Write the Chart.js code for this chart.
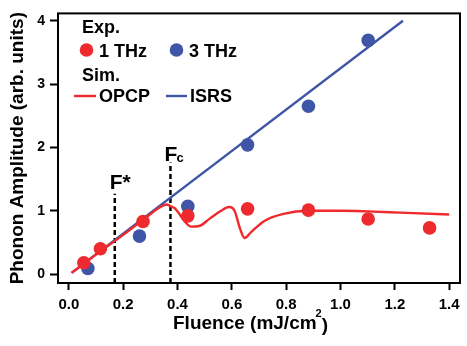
<!DOCTYPE html>
<html>
<head>
<meta charset="utf-8">
<script src="https://cdn.jsdelivr.net/npm/chart.js@4.4.0/dist/chart.umd.min.js"></script>
<style>
  html, body { margin: 0; padding: 0; background: #fff; }
  #phonon { display: block; }
</style>
</head>
<body>
<canvas id="phonon" width="467" height="346"></canvas>
<script>
// measured points, 1 THz mode (red) and 3 THz mode (blue)
const fluence1THz = [0.055, 0.116, 0.273, 0.438, 0.658, 0.882, 1.102, 1.328];
const amp1THz = [0.18, 0.40, 0.83, 0.92, 1.03, 1.01, 0.87, 0.73];
const fluence3THz = [0.07, 0.26, 0.438, 0.658, 0.882, 1.102];
const amp3THz = [0.09, 0.60, 1.07, 2.04, 2.65, 3.69];

// simulations
const opcpFluence = [0.01, 0.1, 0.2, 0.28, 0.33, 0.36, 0.375, 0.39, 0.405, 0.425, 0.45, 0.48,
  0.52, 0.56, 0.59, 0.61, 0.63, 0.647, 0.67, 0.72, 0.79, 0.88, 1.0, 1.1, 1.22, 1.4];
const opcpAmp = [0.02, 0.31, 0.62, 0.88, 1.04, 1.1, 1.07, 1.04, 0.96, 0.84, 0.75, 0.76,
  0.88, 1.0, 1.06, 1.0, 0.72, 0.57, 0.66, 0.84, 0.95, 1.0, 1.0, 0.99, 0.97, 0.94];
const isrsFluence = [0.01, 1.23];
const isrsAmp = [0.02, 4.0];

// threshold markers
const thresholdNames = ["F*", "Fc"];
const thresholdFluence = [0.169, 0.374];
const thresholdTop = [1.27, 1.76];

const xTicks = [0, 0.2, 0.4, 0.6, 0.8, 1.0, 1.2, 1.4];
const yTicks = [0, 1, 2, 3, 4];

const RED = "#ee2a2e";
const BLUE = "#3f55a5";
const FONT = "'Liberation Sans', Arial, Helvetica, sans-serif";

function pairs(xs, ys) {
  return xs.map((x, i) => ({ x: x, y: ys[i] }));
}

const dashedSets = thresholdFluence.map((f, i) => ({
  label: thresholdNames[i],
  data: [{ x: f, y: -0.14 }, { x: f, y: thresholdTop[i] }],
  showLine: true,
  borderColor: "#000",
  borderWidth: 2.5,
  borderDash: [5, 3],
  pointRadius: 0,
}));

const overlay = {
  id: "overlay",
  afterDraw(chart) {
    const ctx = chart.ctx;
    const a = chart.chartArea;
    const xs = chart.scales.x;
    const ys = chart.scales.y;
    ctx.save();

    // frame
    ctx.strokeStyle = "#000";
    ctx.lineWidth = 2;
    ctx.strokeRect(a.left, a.top, a.right - a.left, a.bottom - a.top);

    ctx.fillStyle = "#000";
    ctx.textAlign = "left";
    ctx.textBaseline = "alphabetic";

    // threshold labels
    ctx.font = "bold 21px " + FONT;
    const fs = xs.getPixelForValue(thresholdFluence[0]);
    const fsTop = ys.getPixelForValue(thresholdTop[0]);
    ctx.fillText("F*", fs - 5, fsTop - 5);
    const fc = xs.getPixelForValue(thresholdFluence[1]);
    const fcTop = ys.getPixelForValue(thresholdTop[1]);
    ctx.fillText("F", fc - 6, fcTop - 2);
    ctx.font = "bold 13px " + FONT;
    ctx.fillText("c", fc + 6, fcTop - 1);

    // legend
    ctx.font = "bold 18px " + FONT;
    ctx.fillText("Exp.", 82, 33);
    ctx.fillText("1 THz", 99, 57);
    ctx.fillText("3 THz", 189, 57);
    ctx.fillText("Sim.", 82, 81);
    ctx.fillText("OPCP", 99, 102);
    ctx.fillText("ISRS", 190, 102);
    ctx.beginPath();
    ctx.fillStyle = RED;
    ctx.arc(86.5, 50, 6.8, 0, Math.PI * 2);
    ctx.fill();
    ctx.beginPath();
    ctx.fillStyle = BLUE;
    ctx.arc(176.5, 50, 6.8, 0, Math.PI * 2);
    ctx.fill();
    ctx.lineWidth = 2.4;
    ctx.strokeStyle = RED;
    ctx.beginPath();
    ctx.moveTo(74, 96);
    ctx.lineTo(96, 96);
    ctx.stroke();
    ctx.strokeStyle = BLUE;
    ctx.beginPath();
    ctx.moveTo(166, 96);
    ctx.lineTo(187, 96);
    ctx.stroke();

    // x title with superscript
    ctx.fillStyle = "#000";
    ctx.font = "bold 19px " + FONT;
    const main = "Fluence (mJ/cm";
    let x0 = 173;
    ctx.fillText(main, x0, 329);
    x0 += ctx.measureText(main).width;
    ctx.font = "bold 11px " + FONT;
    ctx.fillText("2", x0 - 1, 317);
    x0 += ctx.measureText("2").width - 1;
    ctx.font = "bold 19px " + FONT;
    ctx.fillText(")", x0, 331);

    // y title
    ctx.translate(22.5, (a.top + a.bottom) / 2);
    ctx.rotate(-Math.PI / 2);
    ctx.textAlign = "center";
    ctx.fillText("Phonon Amplitude (arb. units)", 0, 0);
    ctx.restore();
  },
};

new Chart(document.getElementById("phonon"), {
  type: "scatter",
  data: {
    datasets: [
      {
        label: "1 THz",
        data: pairs(fluence1THz, amp1THz),
        backgroundColor: RED,
        borderWidth: 0,
        pointRadius: 6.8,
      },
      {
        label: "3 THz",
        data: pairs(fluence3THz, amp3THz),
        backgroundColor: BLUE,
        borderWidth: 0,
        pointRadius: 6.8,
      },
      {
        label: "OPCP",
        data: pairs(opcpFluence, opcpAmp),
        showLine: true,
        borderColor: RED,
        borderWidth: 2.4,
        pointRadius: 0,
        cubicInterpolationMode: "monotone",
      },
      {
        label: "ISRS",
        data: pairs(isrsFluence, isrsAmp),
        showLine: true,
        borderColor: BLUE,
        borderWidth: 2.4,
        pointRadius: 0,
      },
      ...dashedSets,
    ],
  },
  options: {
    responsive: false,
    animation: false,
    layout: { padding: { top: 12, right: 7, left: 0, bottom: 0 } },
    plugins: { legend: { display: false }, tooltip: { enabled: false } },
    scales: {
      x: {
        type: "linear",
        min: -0.04,
        max: 1.44,
        afterBuildTicks: (s) => { s.ticks = xTicks.map((v) => ({ value: v })); },
        afterFit: (s) => { s.height = 63; },
        border: { display: false },
        grid: { drawOnChartArea: false, tickLength: 7, tickWidth: 2, tickColor: "#000" },
        ticks: {
          autoSkip: false,
          maxRotation: 0,
          padding: 6,
          color: "#000",
          font: { family: FONT, size: 15, weight: "bold" },
          callback: (v) => Number(v).toFixed(1),
        },
      },
      y: {
        type: "linear",
        min: -0.14,
        max: 4.115,
        afterBuildTicks: (s) => { s.ticks = yTicks.map((v) => ({ value: v })); },
        afterFit: (s) => { s.width = 58; },
        border: { display: false },
        grid: { drawOnChartArea: false, tickLength: 8, tickWidth: 2, tickColor: "#000" },
        ticks: {
          padding: 5,
          color: "#000",
          font: { family: FONT, size: 14, weight: "bold" },
          callback: (v) => String(v),
        },
      },
    },
  },
  plugins: [overlay],
});
</script>
</body>
</html>
